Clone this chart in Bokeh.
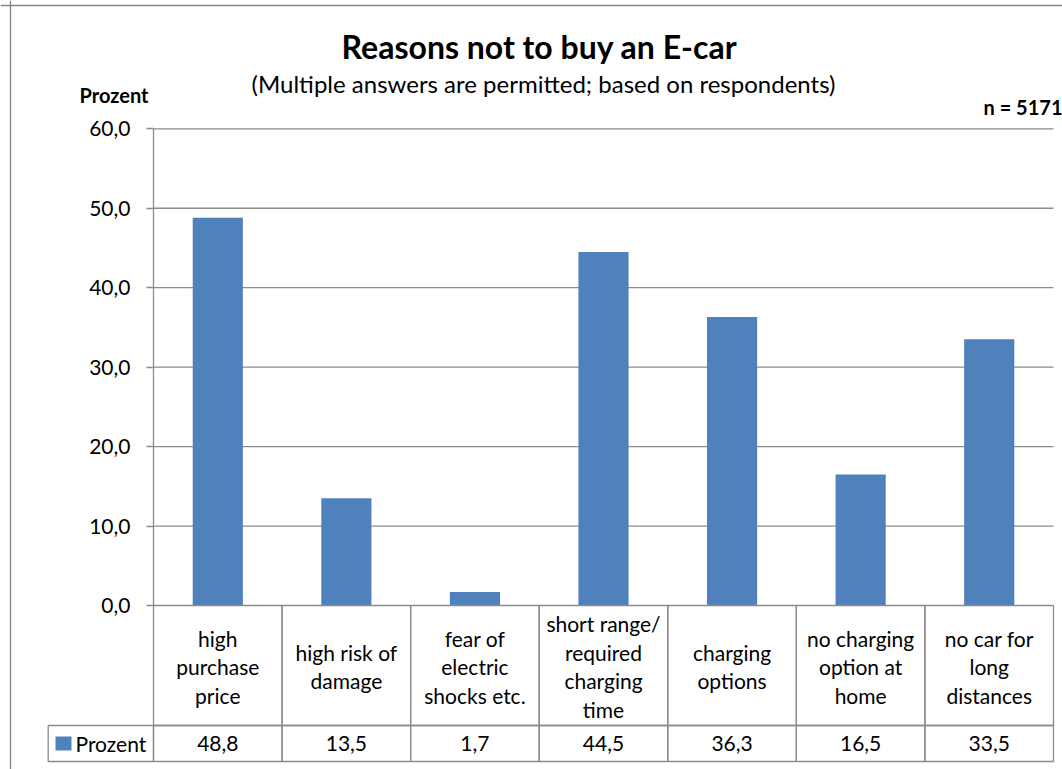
from bokeh.plotting import figure
from bokeh.models import (LinearAxis, FixedTicker, Range1d, Label, Span)
from bokeh.core.properties import value
from bokeh.embed import file_html
from bokeh.resources import INLINE

# ---------------- data ----------------
categories = [
    "high\npurchase\nprice",
    "high risk of\ndamage",
    "fear of\nelectric\nshocks etc.",
    "short range/\nrequired\ncharging\ntime",
    "charging\noptions",
    "no charging\noption at\nhome",
    "no car for\nlong\ndistances",
]
percent = [48.8, 13.5, 1.7, 44.5, 36.3, 16.5, 33.5]
y_ticks = [0, 10, 20, 30, 40, 50, 60]
series_name = "Prozent"
title_text = "Reasons not to buy an E-car"
subtitle_text = "(Multiple answers are permitted; based on respondents)"
axis_title = "Prozent"
n_text = "n = 5171"

# ---------------- layout helpers (reference pixel -> data) ----------------
W, H = 1062, 769
OX, OY = 0, 0
X0, CW = 153.0, 900.0 / 7        # left of first category column, column width (px)
Y0, PPU = 605.0, (605.0 - 128.3) / 60.0   # y of value 0, pixels per unit

def dx(px):
    return (px - X0) / CW

def dy(py):
    return (Y0 - py) / PPU

FONT = "Lato"
BLUE = "#4F81BD"
GRID = "#8C8C8C"

p = figure(width=W, height=H, output_backend="svg", toolbar_location=None,
           x_axis_type=None, y_axis_type=None, title=None,
           x_range=Range1d(dx(OX), dx(OX + W)), y_range=Range1d(dy(OY + H), dy(OY)),
           min_border=0, outline_line_color=None)
p.background_fill_color = "white"
p.border_fill_color = "white"

n = len(categories)
centers = [i + 0.5 for i in range(n)]

# horizontal gridlines (10..60) across the plot area
p.segment(x0=[0] * (len(y_ticks) - 1), x1=[n] * (len(y_ticks) - 1),
          y0=y_ticks[1:], y1=y_ticks[1:], line_color=GRID, line_width=1.3)

# bars
p.vbar(x=centers, top=percent, bottom=0, width=0.39, fill_color=BLUE, line_color=None)

# y axis at x = 0
yaxis = LinearAxis(fixed_location=0, bounds=(0, 60),
                   ticker=FixedTicker(ticks=y_ticks, minor_ticks=[]))
yaxis.major_label_overrides = {t: f"{t:.1f}".replace(".", ",") for t in y_ticks}
yaxis.axis_line_color = GRID
yaxis.axis_line_width = 1.3
yaxis.major_tick_line_color = GRID
yaxis.major_tick_line_width = 1.3
yaxis.major_tick_in = 0
yaxis.major_tick_out = 7
yaxis.minor_tick_line_color = None
yaxis.major_label_text_font = FONT
yaxis.major_label_text_font_size = "21px"
yaxis.major_label_text_color = "black"
yaxis.major_label_standoff = 16
p.add_layout(yaxis, "left")

# data table below the chart
cat_bottom = dy(725)
val_bottom = dy(761)
p.quad(left=list(range(n)), right=[i + 1 for i in range(n)], top=[0] * n,
       bottom=[cat_bottom] * n, fill_color=None, line_color=GRID, line_width=1.3)
p.quad(left=list(range(n)), right=[i + 1 for i in range(n)], top=[cat_bottom] * n,
       bottom=[val_bottom] * n, fill_color=None, line_color=GRID, line_width=1.3)
p.quad(left=[dx(47.7)], right=[0], top=[cat_bottom], bottom=[val_bottom],
       fill_color=None, line_color=GRID, line_width=1.3)

p.text(x=centers, y=[dy(666)] * n, text=categories, text_align="center",
       text_baseline="middle", text_font=value(FONT), text_font_size="21px",
       text_line_height=1.14, text_color="black")
p.text(x=centers, y=[dy(743)] * n, text=[f"{v:.1f}".replace(".", ",") for v in percent],
       text_align="center", text_baseline="middle", text_font=value(FONT),
       text_font_size="21px", text_color="black")

# legend key in the table
p.quad(left=[dx(55)], right=[dx(71)], top=[dy(736)], bottom=[dy(750)],
       fill_color=BLUE, line_color=None)
p.text(x=[dx(75)], y=[dy(743)], text=[series_name], text_align="left",
       text_baseline="middle", text_font=value(FONT), text_font_size="21px",
       text_color="black")

# titles and annotations
p.add_layout(Label(x=dx(539), y=dy(45.5), text=title_text, text_align="center",
                   text_baseline="alphabetic", text_font=FONT, text_font_size="32px",
                   text_font_style="bold", text_color="black"))
p.add_layout(Label(x=dx(543), y=dy(83), text=subtitle_text, text_align="center",
                   text_baseline="alphabetic", text_font=FONT, text_font_size="24px",
                   text_color="black"))
p.add_layout(Label(x=dx(79), y=dy(94), text=axis_title, text_align="left",
                   text_baseline="alphabetic", text_font=FONT, text_font_size="20px",
                   text_font_style="bold", text_color="black"))
p.add_layout(Label(x=dx(1062), y=dy(106), text=n_text, text_align="right",
                   text_baseline="alphabetic", text_font=FONT, text_font_size="20px",
                   text_font_style="bold", text_color="black"))

# outer chart border (left and top)
p.add_layout(Span(location=dx(10), dimension="height", line_color="#868686", line_width=1.3))
p.add_layout(Span(location=dy(5), dimension="width", line_color="#868686", line_width=1.3))

open("out.html", "w").write(file_html(p, INLINE))
